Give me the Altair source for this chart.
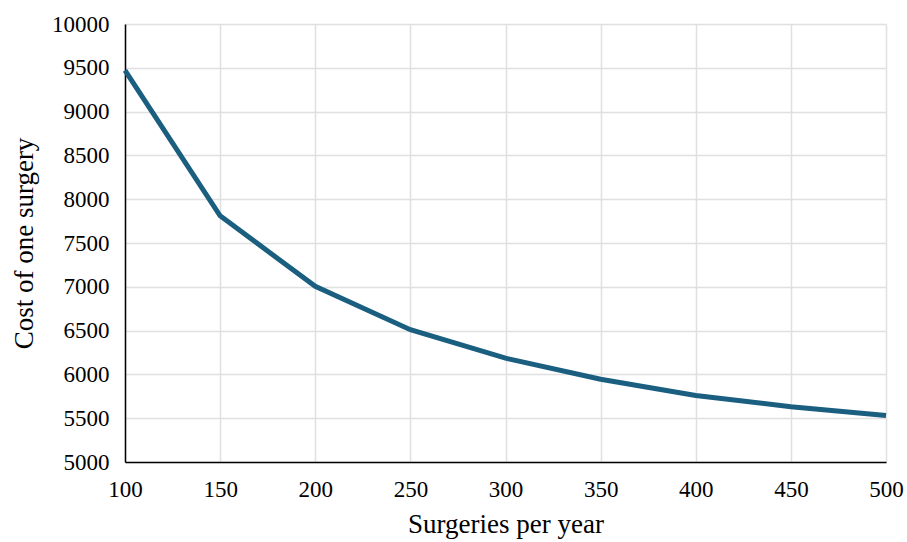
import altair as alt
import pandas as pd

surgeries = [100, 150, 200, 250, 300, 350, 400, 450, 500]
cost = [9470, 7810, 7005, 6510, 6185, 5945, 5760, 5630, 5530]

df = pd.DataFrame({"Surgeries per year": surgeries, "Cost of one surgery": cost})

FONT = "Times New Roman, Liberation Serif, serif"

common = dict(
    labelFont=FONT, titleFont=FONT,
    labelFontSize=23, titleFontSize=27,
    labelColor="black", titleColor="black",
    titleFontWeight="normal",
    ticks=False, labelPadding=16, format="d",
    domainColor="black", domainWidth=1.5,
    gridColor="#e0e0e0", gridWidth=1.5,
    labelFlush=False,
)

chart = alt.Chart(df).mark_line(color="#1A5E80", strokeWidth=5).encode(
    x=alt.X("Surgeries per year:Q",
            scale=alt.Scale(domain=[100, 500], nice=False, zero=False),
            axis=alt.Axis(values=[100, 150, 200, 250, 300, 350, 400, 450, 500],
                          title="Surgeries per year", titlePadding=10, **common)),
    y=alt.Y("Cost of one surgery:Q",
            scale=alt.Scale(domain=[5000, 10000], nice=False, zero=False),
            axis=alt.Axis(values=list(range(5000, 10001, 500)),
                          title="Cost of one surgery", titlePadding=13, **common)),
).properties(
    width=761, height=438,
    padding={"left": 125, "top": 24, "right": 21, "bottom": 80},
    autosize=alt.AutoSizeParams(type="none"),
).configure_view(
    stroke=None
)

chart.save("out.html", embed_options={"renderer": "svg", "actions": False})
